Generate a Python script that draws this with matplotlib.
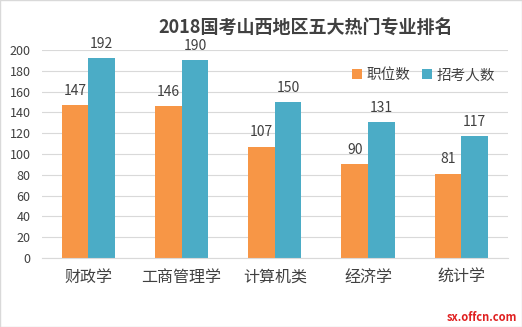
import numpy as np
import matplotlib
matplotlib.use("Agg")
import matplotlib.pyplot as plt

plt.rcParams['font.family'] = ['Noto Sans CJK SC', 'DejaVu Sans']

categories = ["财政学", "工商管理学", "计算机类", "经济学", "统计学"]
positions = [147, 146, 107, 90, 81]
applicants = [192, 190, 150, 131, 117]

fig = plt.figure(figsize=(5.22, 3.27), dpi=100)
ax = fig.add_axes([0.08, 0.211, 0.893, 0.636])

x = np.arange(len(categories))
w = 0.286
b1 = ax.bar(x - w / 2, positions, width=w, color='#F79646', label='职位数')
b2 = ax.bar(x + w / 2, applicants, width=w, color='#4BACC6', label='招考人数')

for rect, v in zip(b1, positions):
    ax.text(rect.get_x() + rect.get_width() / 2, v + 7, str(v), ha='center', va='bottom',
            fontsize=10, color='#404040')
for rect, v in zip(b2, applicants):
    ax.text(rect.get_x() + rect.get_width() / 2, v + 7, str(v), ha='center', va='bottom',
            fontsize=10, color='#404040')

ax.set_xlim(-0.5, len(categories) - 0.5)
ax.set_ylim(0, 200)
ax.set_yticks(range(0, 201, 20))
ax.set_xticks(x)
ax.set_xticklabels(categories, fontsize=11.5, color='#404040')
ax.tick_params(axis='y', labelsize=9, colors='#404040', length=0, pad=8)
ax.tick_params(axis='x', length=0, pad=8)
ax.grid(axis='y', color='#d9d9d9', linewidth=0.8)
ax.set_axisbelow(True)
for s in ['top', 'right', 'left']:
    ax.spines[s].set_visible(False)
ax.spines['bottom'].set_color('#d9d9d9')

fig.text(0.585, 0.915, "2018国考山西地区五大热门专业排名", ha='center', va='center',
         fontsize=13, fontweight='bold', color='#404040')

ax.legend(loc='upper right', bbox_to_anchor=(1.0, 0.975), ncol=2, frameon=False,
          fontsize=10.5, handlelength=0.7, handleheight=0.7, handletextpad=0.3,
          columnspacing=0.8, labelcolor='#404040')

fig.text(0.99, 0.01, "sx.offcn.com", ha='right', va='bottom', fontsize=8,
         color='#e02020', fontweight='bold')

fig.patches.append(plt.Rectangle((0, 0), 1, 1, transform=fig.transFigure, fill=False,
                                 edgecolor='#d9d9d9', linewidth=1))

fig.savefig("out.png", dpi=100)
